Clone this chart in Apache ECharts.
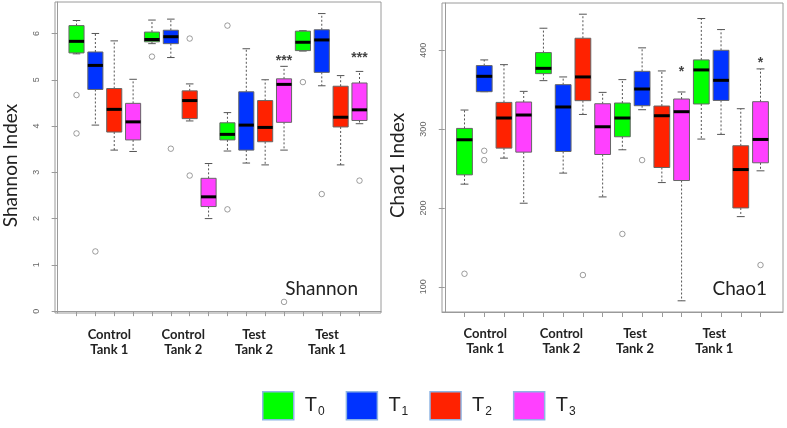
<!DOCTYPE html>
<html><head><meta charset="utf-8">
<script src="https://cdn.jsdelivr.net/npm/echarts@6/dist/echarts.min.js"></script>
<style>html,body{margin:0;padding:0;background:#fff}#c{width:787px;height:428px}</style>
</head><body><div id="c"></div><script>
// ---------- DATA ----------
const tanks = ['Control\nTank 1', 'Control\nTank 2', 'Test\nTank 2', 'Test\nTank 1'];
const times = ['T0', 'T1', 'T2', 'T3'];
// [min, q1, median, q3, max] per tank (Control Tank 1, Control Tank 2, Test Tank 2, Test Tank 1)
const shannonT0 = [[5.56,5.58,5.83,6.17,6.28],[5.78,5.82,5.87,6.03,6.29],[3.46,3.70,3.82,4.07,4.29],[5.62,5.63,5.81,6.05,6.06]];
const shannonT1 = [[4.02,4.79,5.31,5.60,6.00],[5.48,5.78,5.93,6.07,6.31],[3.20,3.48,4.02,4.74,5.67],[4.87,5.16,5.86,6.08,6.43]];
const shannonT2 = [[3.48,3.87,4.36,4.81,5.84],[4.11,4.16,4.55,4.76,4.91],[3.16,3.66,3.97,4.55,5.00],[3.16,3.98,4.19,4.86,5.09]];
const shannonT3 = [[3.45,3.70,4.09,4.49,5.01],[2.00,2.26,2.47,2.87,3.19],[3.48,4.08,4.90,5.02,5.29],[4.05,4.12,4.35,4.93,5.18]];
// outliers: [tankIndex, timeIndex, value]
const shannonOutliers = [[0,0,4.67],[0,0,3.84],[0,1,1.29],[1,0,5.50],[1,1,3.51],[1,2,5.89],[1,2,2.93],[2,0,6.17],[2,0,2.20],[2,3,0.20],[3,0,4.95],[3,1,2.53],[3,3,2.82]];
const shannonSig = [[2,3,5.41,'***'],[3,3,5.46,'***']];
const shannonTicks = [0,1,2,3,4,5,6];

const chaoT0 = [[230.2,242.0,286.5,300.9,324.2],[361.5,370.4,377.1,397.1,428.0],[273.8,290.3,314.1,333.1,362.8],[287.4,331.9,375.1,387.8,440.3]];
const chaoT1 = [[347.5,347.5,367.0,380.6,387.8],[244.2,271.6,328.1,356.4,366.2],[324.6,329.7,350.9,373.3,403.1],[293.3,336.4,361.9,400.0,426.3]];
const chaoT2 = [[263.2,275.9,314.1,333.9,381.8],[318.6,336.1,366.2,415.3,445.8],[232.2,251.3,317.0,329.3,373.8],[189.0,200.0,248.7,278.9,325.9]];
const chaoT3 = [[206.0,270.8,317.9,334.4,347.9],[214.0,267.8,303.0,332.2,346.6],[82.2,234.8,322.1,338.2,347.1],[247.1,257.3,286.9,334.8,376.4]];
const chaoOutliers = [[0,0,116.5],[0,1,272.5],[0,1,260.7],[1,2,114.9],[2,0,167.0],[2,1,260.7],[3,3,127.6]];
const chaoSig = [[2,3,372.5,'*'],[3,3,383.1,'*']];
const chaoTicks = [100,200,300,400];

// ---------- STYLE / LAYOUT ----------
const colors = ['#00ff00', '#0033ff', '#ff2200', '#ff40ff'];
const frame = '#9a9a9a';
const pos = (tank, t) => tank * 4 + t + 1;
const boxPositions = Array.from({length: 16}, (_, i) => i + 1);
const leftLabelPos = [2.74, 6.66, 10.41, 14.28];
const rightLabelPos = [2.05, 5.91, 9.64, 13.66];

function boxRender(params, api) {
  const x = api.value(0);
  const pMin = api.coord([x, api.value(1)]);
  const pQ1 = api.coord([x, api.value(2)]);
  const pMed = api.coord([x, api.value(3)]);
  const pQ3 = api.coord([x, api.value(4)]);
  const pMax = api.coord([x, api.value(5)]);
  const bw = api.size([0.8, 0])[0];
  const cw = bw * 0.5;
  const cx = pMed[0];
  const color = api.visual('color');
  const dash = {stroke: '#555', lineWidth: 1, lineDash: [2, 2]};
  const solid = {stroke: '#555', lineWidth: 1};
  return {type: 'group', children: [
    {type: 'line', shape: {x1: cx, y1: pQ3[1], x2: cx, y2: pMax[1]}, style: dash},
    {type: 'line', shape: {x1: cx, y1: pQ1[1], x2: cx, y2: pMin[1]}, style: dash},
    {type: 'line', shape: {x1: cx - cw / 2, y1: pMax[1], x2: cx + cw / 2, y2: pMax[1]}, style: solid},
    {type: 'line', shape: {x1: cx - cw / 2, y1: pMin[1], x2: cx + cw / 2, y2: pMin[1]}, style: solid},
    {type: 'rect', shape: {x: cx - bw / 2, y: pQ3[1], width: bw, height: pQ1[1] - pQ3[1]}, style: {fill: color, stroke: '#666', lineWidth: 1}},
    {type: 'line', shape: {x1: cx - bw / 2, y1: pMed[1], x2: cx + bw / 2, y2: pMed[1]}, style: {stroke: '#000', lineWidth: 3}}
  ]};
}

function boxSeries(name, t, data, gi) {
  return {
    name: name, type: 'custom', xAxisIndex: gi, yAxisIndex: gi,
    itemStyle: {color: colors[t]},
    renderItem: boxRender,
    encode: {x: 0, y: [1, 2, 3, 4, 5]},
    data: data.map((d, tank) => [pos(tank, t)].concat(d)),
    z: 2
  };
}

const shannonSets = [shannonT0, shannonT1, shannonT2, shannonT3];
const chaoSets = [chaoT0, chaoT1, chaoT2, chaoT3];

const series = [];
times.forEach((n, t) => series.push(boxSeries(n, t, shannonSets[t], 0)));
times.forEach((n, t) => series.push(boxSeries(n, t, chaoSets[t], 1)));
[[shannonOutliers, 0], [chaoOutliers, 1]].forEach(([outs, gi]) => {
  series.push({
    type: 'scatter', xAxisIndex: gi, yAxisIndex: gi, symbol: 'circle', symbolSize: 5.5,
    itemStyle: {color: 'rgba(0,0,0,0)', borderColor: '#666', borderWidth: 0.8},
    data: outs.map(o => [pos(o[0], o[1]), o[2]]), z: 3, silent: true
  });
});
[[shannonSig, 0], [chaoSig, 1]].forEach(([sig, gi]) => {
  series.push({
    type: 'scatter', xAxisIndex: gi, yAxisIndex: gi, symbolSize: 0,
    data: sig.map(s => ({value: [pos(s[0], s[1]), s[2]], label: {formatter: s[3]}})),
    label: {show: true, position: 'inside', color: '#111', fontSize: 14, fontWeight: 'bold', fontFamily: 'Liberation Sans'},
    z: 4, silent: true
  });
});

function xAxisDef(gi, labelPos) {
  return {
    type: 'value', gridIndex: gi, min: -0.14, max: 17.14,
    axisLine: {show: true, lineStyle: {color: frame}},
    splitLine: {show: false},
    axisTick: {show: true, length: 5, lineStyle: {color: frame}, customValues: boxPositions},
    axisLabel: {
      customValues: labelPos, margin: 14,
      formatter: v => { const i = labelPos.findIndex(p => Math.abs(p - v) < 1e-6); return i >= 0 ? tanks[i] : ''; },
      color: '#222', fontWeight: 'bold', fontSize: 13, lineHeight: 15, fontFamily: 'Lato'
    }
  };
}
function yAxisDef(gi, min, max, ticks, name, margin, gap) {
  return {
    type: 'value', gridIndex: gi, min: min, max: max,
    name: name, nameLocation: 'middle', nameGap: gap,
    nameTextStyle: {fontSize: 19, color: '#222', fontFamily: 'Lato', padding: [0, 16, 0, 0]},
    axisLine: {show: true, lineStyle: {color: frame}},
    splitLine: {show: false},
    axisTick: {show: true, length: 6, lineStyle: {color: frame}, customValues: ticks},
    axisLabel: {customValues: ticks, rotate: 90, margin: margin, fontSize: 9, color: '#666', fontFamily: 'Liberation Sans'}
  };
}

const option = {
  animation: false,
  backgroundColor: '#fff',
  title: [
    {text: 'Shannon', right: 424, top: 274, textStyle: {fontSize: 19, fontWeight: 'normal', color: '#222', fontFamily: 'Lato'}},
    {text: 'Chao1', right: 15, top: 274, textStyle: {fontSize: 19, fontWeight: 'normal', color: '#222', fontFamily: 'Lato'}}
  ],
  grid: [
    {left: 44, top: 2, width: 337, height: 311, show: true, borderColor: frame, borderWidth: 1},
    {left: 442, top: 3, width: 341, height: 309, show: true, borderColor: frame, borderWidth: 1}
  ],
  xAxis: [xAxisDef(0, leftLabelPos), xAxisDef(1, rightLabelPos)],
  yAxis: [
    yAxisDef(0, -0.04, 6.68, shannonTicks, 'Shannon Index', 14, 35),
    yAxisDef(1, 68, 460, chaoTicks, 'Chao1 Index', 14, 35)
  ],
  legend: {
    data: times, left: 262, top: 391, padding: 0, itemWidth: 31, itemHeight: 28, itemGap: 21, icon: 'rect',
    itemStyle: {borderColor: '#8eb4e3', borderWidth: 1.5},
    formatter: n => '{t|T}{s|' + n.slice(1) + '}',
    textStyle: {
      rich: {
        t: {fontSize: 20, color: '#222', fontFamily: 'Liberation Sans', padding: [0, 0, 0, 6]},
        s: {fontSize: 12, color: '#222', fontFamily: 'Liberation Sans', verticalAlign: 'bottom', padding: [12, 0, 0, 1]}
      }
    }
  },
  series: series
};
echarts.init(document.getElementById('c')).setOption(option);
</script></body></html>
